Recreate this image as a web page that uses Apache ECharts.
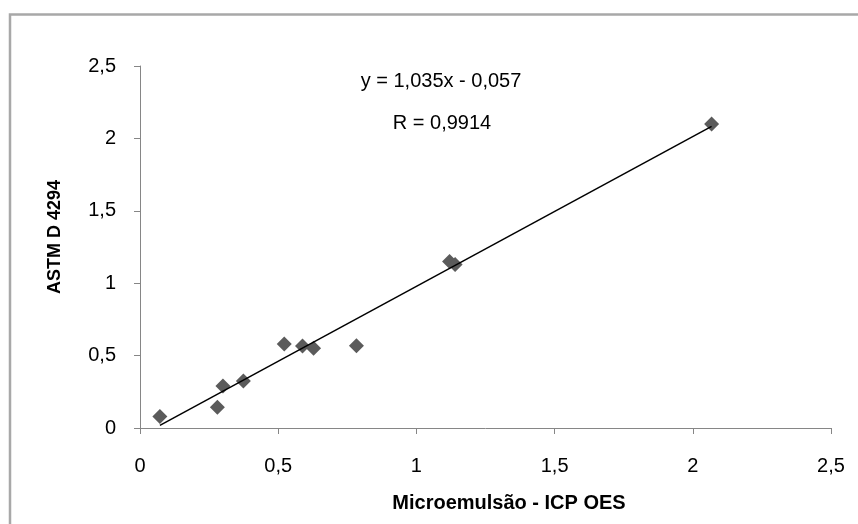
<!DOCTYPE html>
<html>
<head>
<meta charset="utf-8">
<script src="https://cdn.jsdelivr.net/npm/echarts@6/dist/echarts.min.js"></script>
<style>
html,body{margin:0;padding:0;background:#fff;}
#chart{width:858px;height:524px;}
</style>
</head>
<body>
<div id="chart"></div>
<script>
// Data
const microemulsao = [0.072, 0.28, 0.30, 0.374, 0.522, 0.588, 0.628, 0.783, 1.12, 1.14, 2.068];
const astm         = [0.080, 0.143, 0.29, 0.325, 0.58, 0.566, 0.55, 0.568, 1.15, 1.13, 2.099];
const slope = 1.035;
const intercept = -0.057;
const equationText = 'y = 1,035x - 0,057';
const rText = 'R = 0,9914';
const xTitle = 'Microemulsão - ICP OES';
const yTitle = 'ASTM D 4294';

const points = microemulsao.map((x, i) => [x, astm[i]]);
const xMin = Math.min(...microemulsao), xMax = Math.max(...microemulsao);
const trend = [[xMin, slope * xMin + intercept], [xMax, slope * xMax + intercept]];

const fontFam = "'Liberation Sans',Arial,sans-serif";
const fmt = v => String(v).replace('.', ',');

const chart = echarts.init(document.getElementById('chart'));
chart.setOption({
  animation: false,
  backgroundColor: '#fff',
  grid: {left: 140, right: 27, top: 66, bottom: 96},
  graphic: [
    {type: 'rect', shape: {x: 10, y: 14.5, width: 900, height: 600},
     style: {fill: 'none', stroke: '#a8a8a8', lineWidth: 2.5}, silent: true},
    {type: 'text',
     style: {text: equationText, font: "20px " + fontFam, fill: '#000', x: 441, y: 81, textAlign: 'center', textVerticalAlign: 'middle'}},
    {type: 'text',
     style: {text: rText, font: "20px " + fontFam, fill: '#000', x: 442, y: 123, textAlign: 'center', textVerticalAlign: 'middle'}},
    {type: 'text',
     style: {text: xTitle, font: "bold 20px " + fontFam, fill: '#000', x: 509, y: 503, textAlign: 'center', textVerticalAlign: 'middle'}},
    {type: 'text', x: 55, y: 237, rotation: Math.PI / 2,
     style: {text: yTitle, font: "bold 18px " + fontFam, fill: '#000', x: 0, y: 0, textAlign: 'center', textVerticalAlign: 'middle'}}
  ],
  xAxis: {
    type: 'value', min: 0, max: 2.5, interval: 0.5,
    axisLine: {show: true, lineStyle: {color: '#868686', width: 1}},
    axisTick: {show: true, inside: false, length: 6, lineStyle: {color: '#868686'}},
    axisLabel: {formatter: fmt, fontFamily: fontFam, fontSize: 20, color: '#000', margin: 28},
    splitLine: {show: false}
  },
  yAxis: {
    type: 'value', min: 0, max: 2.5, interval: 0.5,
    axisLine: {show: true, lineStyle: {color: '#868686', width: 1}},
    axisTick: {show: true, inside: false, length: 6, lineStyle: {color: '#868686'}},
    axisLabel: {formatter: fmt, fontFamily: fontFam, fontSize: 20, color: '#000', margin: 24},
    splitLine: {show: false}
  },
  series: [
    {
      type: 'line', data: trend, symbol: 'none', z: 3,
      lineStyle: {color: '#000', width: 1.5}
    },
    {
      type: 'scatter', data: points, symbol: 'diamond', symbolSize: 15, z: 2,
      itemStyle: {color: '#5b5b5b', opacity: 1}
    }
  ]
});
</script>
</body>
</html>
